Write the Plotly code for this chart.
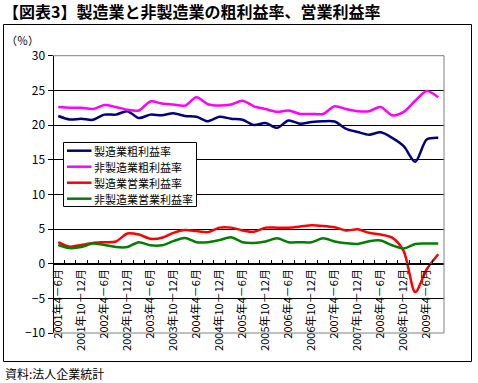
import plotly.graph_objects as go

# Quarterly categories: 2001年4－6月 ... 2009年7－9月
quarters = ["4－6月", "7－9月", "10－12月", "1－3月"]
categories = []
year = 2001
for k in range(34):
    q = quarters[k % 4]
    if q == "1－3月":
        year += 1
    categories.append(f"{year}年{q}")

mfg_gross = [21.3, 20.8, 20.9, 20.75, 21.5, 21.5, 22.0, 21.0, 21.5, 21.4,
             21.7, 21.3, 21.2, 20.55, 21.2, 20.9, 20.75, 20.0, 20.3, 19.6,
             20.65, 20.2, 20.45, 20.55, 20.5, 19.45, 19.0, 18.6, 18.95, 18.15,
             16.95, 14.7, 17.9, 18.15]
nonmfg_gross = [22.6, 22.5, 22.5, 22.3, 22.9, 22.6, 22.2, 22.1, 23.4, 23.1,
                22.95, 22.8, 24.0, 23.0, 22.8, 22.95, 23.5, 22.7, 22.3, 21.9,
                22.1, 21.6, 21.6, 21.6, 22.7, 22.3, 22.0, 22.0, 22.6, 21.4,
                21.9, 23.5, 24.9, 24.0]
mfg_op = [3.1, 2.45, 2.7, 3.0, 3.1, 3.2, 4.35, 4.2, 3.6, 3.75,
          4.45, 4.85, 4.7, 4.55, 5.2, 5.2, 4.8, 4.6, 5.2, 5.2,
          5.2, 5.35, 5.55, 5.45, 5.25, 4.8, 4.95, 4.45, 4.2, 3.75,
          1.8, -4.1, -0.8, 1.35]
nonmfg_op = [2.7, 2.25, 2.4, 2.9, 2.7, 2.4, 2.4, 3.1, 2.65, 2.65,
             3.25, 3.7, 3.1, 3.1, 3.4, 3.8, 3.1, 3.0, 3.2, 3.65,
             3.1, 3.1, 3.1, 3.65, 3.2, 2.95, 2.85, 3.25, 3.35, 2.65,
             2.2, 2.85, 2.9, 2.9]

series_names = ["製造業粗利益率", "非製造業粗利益率", "製造業営業利益率", "非製造業営業利益率"]
series_values = [mfg_gross, nonmfg_gross, mfg_op, nonmfg_op]
series_colors = ["#000080", "#FF00FF", "#FF0000", "#008000"]

tick_text = [c if i % 2 == 0 else "" for i, c in enumerate(categories)]
y_ticks = list(range(-10, 31, 5))

FONT = "Noto Sans CJK JP"

fig = go.Figure()
for name, vals, col in zip(series_names, series_values, series_colors):
    fig.add_trace(go.Scatter(
        x=categories, y=vals, name=name, mode="lines", showlegend=False,
        line=dict(color=col, width=2.5, shape="spline", smoothing=0.8),
    ))

W, H = 478, 383
# paper area = outer frame region
PL, PR, PT, PB = 3, 472, 24, 362
pw, ph = PR - PL, PB - PT
# plot (axes) region in pixels
AL, AR, AT, AB = 52.5, 444, 55.7, 333

def px(xp):
    return (xp - PL) / pw

def py(yp):
    return (PB - yp) / ph

def seg(x0, y0, x1, y1, color, width=1):
    return dict(type="line", xref="paper", yref="paper",
                x0=px(x0), x1=px(x1), y0=py(y0), y1=py(y1),
                line=dict(color=color, width=width))

y0_pix = AB - (0 - (-10)) / 40 * (AB - AT)

shapes = [
    # plot-area frame (gray): top, bottom, right
    seg(AL, AT, AR, AT, "#808080"),
    seg(AL, AB, AR, AB, "#808080"),
    seg(AR, AT, AR, AB, "#808080"),
    # outer frame
    seg(3.5, 24.5, 471.5, 24.5, "black"),
    seg(3.5, 361.5, 471.5, 361.5, "black"),
    seg(3.5, 24.5, 3.5, 361.5, "black"),
    seg(471.5, 24.5, 471.5, 361.5, "black"),
    # legend box
    dict(type="rect", xref="paper", yref="paper",
         x0=px(63.5), x1=px(196.5), y0=py(206.5), y1=py(142.5),
         line=dict(color="black", width=1), fillcolor="white"),
]
annotations = [
    dict(text="（％）", xref="paper", yref="paper", x=px(4), y=py(40.5),
         xanchor="left", yanchor="middle", showarrow=False,
         font=dict(family=FONT, size=11, color="black")),
    dict(text="資料:法人企業統計", xref="paper", yref="paper", x=px(3), y=py(373),
         xanchor="left", yanchor="middle", showarrow=False,
         font=dict(family=FONT, size=12, color="black")),
]
# custom legend (sample line + label per series)
for k, (name, col) in enumerate(zip(series_names, series_colors)):
    yc = 150.7 + 16 * k
    shapes.append(seg(67, yc, 91.5, yc, col, 2.5))
    annotations.append(dict(text=name, xref="paper", yref="paper",
                            x=px(92), y=py(yc), xanchor="left", yanchor="middle",
                            showarrow=False,
                            font=dict(family=FONT, size=11, color="black")))

fig.update_layout(
    width=W, height=H,
    margin=dict(l=PL, r=W - PR, t=PT, b=H - PB, pad=0),
    paper_bgcolor="white", plot_bgcolor="white",
    font=dict(family=FONT, color="black", size=11),
    title=dict(text="【図表3】製造業と非製造業の粗利益率、営業利益率",
               x=3 / W, xanchor="left", xref="container",
               y=1 - 12 / H, yanchor="middle", yref="container",
               font=dict(family=FONT, size=16, color="black", weight="bold")),
    showlegend=False,
    xaxis=dict(
        type="category", range=[-0.5, len(categories) - 0.5],
        domain=[px(AL), px(AR)],
        anchor="free", position=py(y0_pix),
        tickmode="array", tickvals=categories, ticktext=tick_text,
        tickson="boundaries", ticks="inside", ticklen=4, tickcolor="black",
        tickangle=-90, tickfont=dict(family=FONT, size=11, color="black"),
        showline=True, linecolor="black", linewidth=1,
        showgrid=False, zeroline=False, automargin=False,
    ),
    yaxis=dict(
        range=[-10, 30], tickmode="array", tickvals=y_ticks,
        domain=[py(AB), py(AT)],
        anchor="free", position=px(AL),
        ticks="outside", ticklen=5, tickcolor="black",
        tickfont=dict(family=FONT, size=12, color="black"),
        showline=True, linecolor="black", linewidth=1,
        showgrid=True, gridcolor="black", gridwidth=1,
        zeroline=False, automargin=False,
    ),
    shapes=shapes,
    annotations=annotations,
)

post = (
    "document.body.style.margin='0';"
    "document.body.style.overflow='hidden';"
)

fig.write_html("out.html", config={"displayModeBar": False}, post_script=post)
